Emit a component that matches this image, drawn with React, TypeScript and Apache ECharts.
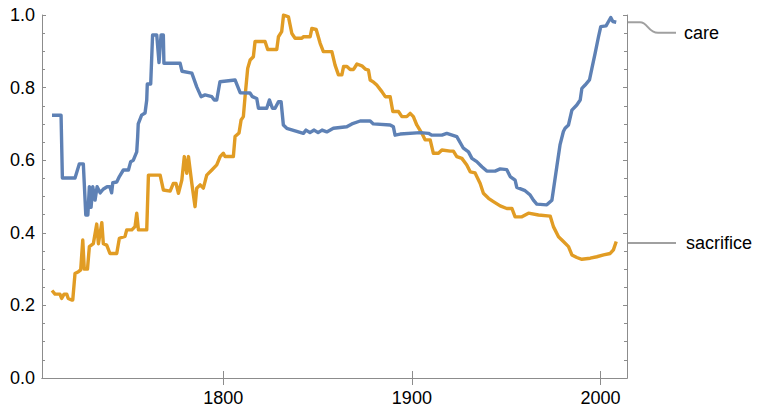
import React, { useEffect, useRef } from "react";
import * as echarts from "echarts";

// [year, value] readings
const careData: [number, number][] = [
  [1709.3, 0.724], [1714.1, 0.724], [1714.8, 0.551], [1721.5, 0.551], [1723.8, 0.59], [1725.9, 0.59],
  [1727.2, 0.449], [1728.3, 0.449], [1729.1, 0.527], [1730.0, 0.47], [1730.9, 0.527], [1732.1, 0.49],
  [1733.2, 0.527], [1734.8, 0.51], [1736.4, 0.52], [1738.5, 0.527], [1740.0, 0.527], [1740.9, 0.51],
  [1741.5, 0.538], [1743.6, 0.54], [1745.0, 0.555], [1747.1, 0.573], [1749.8, 0.573], [1751.0, 0.596],
  [1752.4, 0.6], [1754.2, 0.623], [1754.7, 0.665], [1755.0, 0.7], [1756.8, 0.724], [1758.6, 0.73],
  [1759.5, 0.766], [1759.8, 0.81], [1761.6, 0.81], [1762.6, 0.945], [1764.8, 0.945], [1766.0, 0.869],
  [1767.1, 0.945], [1768.3, 0.945], [1768.6, 0.867], [1777.2, 0.867], [1778.2, 0.845], [1783.4, 0.84],
  [1786.0, 0.802], [1788.3, 0.775], [1790.4, 0.78], [1794.0, 0.775], [1795.3, 0.766], [1796.6, 0.766],
  [1798.3, 0.816], [1806.3, 0.821], [1809.0, 0.786], [1814.2, 0.785], [1815.5, 0.775], [1817.8, 0.77],
  [1818.7, 0.743], [1823.1, 0.743], [1824.5, 0.766], [1826.1, 0.743], [1827.5, 0.743], [1829.3, 0.761],
  [1830.7, 0.761], [1831.9, 0.697], [1833.7, 0.688], [1838.1, 0.681], [1842.5, 0.674], [1843.9, 0.683],
  [1846.0, 0.676], [1848.2, 0.683], [1850.3, 0.676], [1852.4, 0.683], [1854.9, 0.678], [1858.4, 0.688],
  [1865.5, 0.692], [1868.2, 0.7], [1872.6, 0.708], [1877.9, 0.708], [1879.6, 0.7], [1888.5, 0.697],
  [1890.2, 0.692], [1891.1, 0.669], [1893.8, 0.672], [1904.4, 0.676], [1908.8, 0.674], [1910.6, 0.669],
  [1915.9, 0.669], [1918.5, 0.674], [1923.8, 0.665], [1927.3, 0.633], [1930.0, 0.623], [1931.8, 0.605],
  [1934.4, 0.596], [1937.1, 0.582], [1939.7, 0.57], [1944.1, 0.57], [1946.8, 0.576], [1950.3, 0.574],
  [1952.1, 0.555], [1954.7, 0.545], [1955.6, 0.525], [1960.0, 0.516], [1962.7, 0.504], [1964.4, 0.49],
  [1966.2, 0.479], [1971.5, 0.477], [1974.2, 0.49], [1975.0, 0.518], [1976.8, 0.582], [1978.5, 0.642],
  [1980.3, 0.679], [1981.2, 0.688], [1983.0, 0.697], [1984.8, 0.738], [1987.4, 0.752], [1989.2, 0.766],
  [1990.1, 0.798], [1991.8, 0.807], [1994.1, 0.821], [1995.4, 0.853], [1997.1, 0.894], [1998.9, 0.94],
  [2000.1, 0.968], [2002.9, 0.97], [2004.2, 0.982], [2005.4, 0.993], [2006.5, 0.982], [2008.3, 0.98],
];

const sacrificeData: [number, number][] = [
  [1709.3, 0.241], [1710.9, 0.231], [1713.5, 0.231], [1714.4, 0.219], [1715.7, 0.231], [1717.1, 0.231],
  [1717.9, 0.219], [1719.7, 0.215], [1720.3, 0.215], [1721.5, 0.288], [1723.3, 0.293], [1724.5, 0.298],
  [1725.6, 0.38], [1726.4, 0.3], [1728.1, 0.3], [1729.1, 0.362], [1731.2, 0.37], [1733.0, 0.424],
  [1733.9, 0.37], [1735.7, 0.428], [1736.5, 0.37], [1738.3, 0.366], [1740.0, 0.343], [1743.6, 0.343],
  [1745.0, 0.385], [1748.0, 0.39], [1748.9, 0.408], [1751.6, 0.408], [1753.3, 0.417], [1754.2, 0.454],
  [1755.1, 0.408], [1759.5, 0.408], [1760.4, 0.559], [1766.6, 0.559], [1768.3, 0.518], [1771.9, 0.515],
  [1773.6, 0.536], [1775.0, 0.536], [1776.3, 0.509], [1778.1, 0.545], [1779.4, 0.61], [1780.7, 0.564],
  [1781.6, 0.61], [1783.4, 0.536], [1785.1, 0.472], [1786.0, 0.523], [1787.8, 0.532], [1789.5, 0.523],
  [1791.3, 0.559], [1794.0, 0.573], [1796.6, 0.587], [1798.4, 0.61], [1800.1, 0.619], [1801.0, 0.61],
  [1805.4, 0.61], [1806.3, 0.665], [1808.4, 0.675], [1809.5, 0.711], [1810.7, 0.72], [1811.6, 0.775],
  [1813.0, 0.853], [1814.3, 0.876], [1816.0, 0.885], [1816.9, 0.927], [1822.2, 0.927], [1823.6, 0.905],
  [1828.4, 0.905], [1829.3, 0.94], [1831.0, 0.954], [1832.0, 1.0], [1834.6, 0.995], [1836.4, 0.949],
  [1838.1, 0.936], [1841.7, 0.936], [1842.5, 0.94], [1846.1, 0.94], [1847.0, 0.963], [1849.3, 0.96],
  [1851.4, 0.922], [1853.1, 0.899], [1857.6, 0.899], [1859.3, 0.862], [1861.1, 0.835], [1862.9, 0.835],
  [1863.8, 0.858], [1865.6, 0.858], [1867.3, 0.85], [1869.1, 0.85], [1870.9, 0.865], [1873.5, 0.86],
  [1875.3, 0.851], [1877.0, 0.848], [1877.9, 0.821], [1879.7, 0.815], [1881.4, 0.807], [1884.1, 0.789],
  [1885.9, 0.775], [1888.5, 0.775], [1889.9, 0.734], [1892.9, 0.734], [1894.7, 0.72], [1897.3, 0.72],
  [1899.1, 0.729], [1900.8, 0.72], [1902.6, 0.697], [1905.3, 0.674], [1907.0, 0.656], [1909.7, 0.656],
  [1911.4, 0.619], [1914.1, 0.619], [1915.9, 0.628], [1920.3, 0.625], [1922.0, 0.625], [1923.8, 0.61],
  [1926.5, 0.605], [1929.1, 0.587], [1930.9, 0.568], [1933.5, 0.565], [1936.2, 0.536], [1937.9, 0.509],
  [1940.6, 0.495], [1943.2, 0.486], [1946.8, 0.474], [1950.3, 0.467], [1953.0, 0.467], [1954.7, 0.444],
  [1958.3, 0.444], [1961.8, 0.454], [1967.1, 0.449], [1973.3, 0.446], [1975.0, 0.417], [1977.7, 0.389],
  [1980.3, 0.376], [1983.0, 0.362], [1984.8, 0.339], [1987.4, 0.332], [1990.1, 0.327], [1994.5, 0.33],
  [1998.0, 0.334], [2001.6, 0.339], [2005.1, 0.343], [2006.8, 0.353], [2008.3, 0.376],
];

const seriesNames = ["care", "sacrifice"];
const xTickValues = [1800, 1900, 2000];
const xMin = 1704;
const xMax = 2014;

const FONT = "'Liberation Sans', Arial, Helvetica, sans-serif";
const AXIS_COLOR = "#8c8c8c";
const COLORS = ["#5E81B5", "#E19C24"];

export default function App() {
  const ref = useRef<HTMLDivElement>(null);
  useEffect(() => {
    if (!ref.current) return;
    const chart = echarts.init(ref.current, undefined, { renderer: "svg" });
    const axisLine = { show: true, lineStyle: { color: AXIS_COLOR, width: 1 } };
    chart.setOption({
      animation: false,
      backgroundColor: "#ffffff",
      grid: { left: 42, right: 135, top: 15, bottom: 31, containLabel: false },
      xAxis: [
        {
          type: "value", min: xMin, max: xMax, position: "bottom",
          axisLine, splitLine: { show: false },
          axisTick: { show: true, inside: true, length: 7, customValues: xTickValues, lineStyle: { color: AXIS_COLOR } },
          axisLabel: {
            customValues: xTickValues, color: "#000", fontSize: 18, fontFamily: FONT, margin: 11,
            formatter: (v: number) => String(Math.round(v)),
          },
        },
        {
          type: "value", min: xMin, max: xMax, position: "top",
          axisLine, splitLine: { show: false },
          axisTick: { show: true, inside: true, length: 7, customValues: xTickValues, lineStyle: { color: AXIS_COLOR } },
          axisLabel: { show: true, customValues: xTickValues, formatter: () => "" },
        },
      ],
      yAxis: [
        {
          type: "value", min: 0, max: 1, interval: 0.2, position: "left",
          axisLine, splitLine: { show: false },
          axisTick: { show: true, inside: true, length: 4, lineStyle: { color: AXIS_COLOR } },
          minorTick: { show: true, splitNumber: 4, length: 3, lineStyle: { color: AXIS_COLOR } },
          axisLabel: { color: "#000", fontSize: 18, fontFamily: FONT, margin: 7, formatter: (v: number) => v.toFixed(1) },
        },
        {
          type: "value", min: 0, max: 1, interval: 0.2, position: "right",
          axisLine, splitLine: { show: false },
          axisTick: { show: true, inside: true, length: 4, lineStyle: { color: AXIS_COLOR } },
          minorTick: { show: true, splitNumber: 4, length: 3, lineStyle: { color: AXIS_COLOR } },
          axisLabel: { show: false },
        },
      ],
      series: [
        {
          name: seriesNames[0], type: "line", data: careData, showSymbol: false, symbol: "none",
          lineStyle: { color: COLORS[0], width: 3.4, join: "round" }, z: 3,
        },
        {
          name: seriesNames[1], type: "line", data: sacrificeData, showSymbol: false, symbol: "none",
          lineStyle: { color: COLORS[1], width: 3.4, join: "round" }, z: 2,
        },
      ],
    });

    const careEnd = careData[careData.length - 1];
    const sacEnd = sacrificeData[sacrificeData.length - 1];
    const pc = chart.convertToPixel({ xAxisIndex: 0, yAxisIndex: 0 }, careEnd) as number[];
    const ps = chart.convertToPixel({ xAxisIndex: 0, yAxisIndex: 0 }, sacEnd) as number[];
    const edge = chart.convertToPixel({ xAxisIndex: 0, yAxisIndex: 0 }, [xMax, 0]) as number[];
    const x0 = edge[0] + 1;
    const careLabelY = pc[1] + 10.5;
    const sacLabelY = ps[1] + 1.5;
    const leader = { stroke: "#a0a0a0", lineWidth: 2, fill: null };
    chart.setOption({
      graphic: [
        { type: "line", shape: { x1: x0, y1: pc[1], x2: x0 + 12, y2: pc[1] }, style: leader, silent: true },
        {
          type: "bezierCurve",
          shape: { x1: x0 + 12, y1: pc[1], cpx1: x0 + 20, cpy1: pc[1], cpx2: x0 + 20, cpy2: careLabelY, x2: x0 + 30, y2: careLabelY },
          style: leader, silent: true,
        },
        { type: "line", shape: { x1: x0 + 30, y1: careLabelY, x2: x0 + 48, y2: careLabelY }, style: leader, silent: true },
        {
          type: "text", x: x0 + 56, y: careLabelY,
          style: { text: seriesNames[0], fontSize: 18, fontFamily: FONT, fill: "#000", verticalAlign: "middle", align: "left" },
        },
        { type: "line", shape: { x1: x0, y1: sacLabelY, x2: x0 + 48, y2: sacLabelY }, style: leader, silent: true },
        {
          type: "text", x: x0 + 58, y: sacLabelY,
          style: { text: seriesNames[1], fontSize: 18, fontFamily: FONT, fill: "#000", verticalAlign: "middle", align: "left" },
        },
      ],
    });
    return () => chart.dispose();
  }, []);
  return <div ref={ref} style={{ position: "fixed", left: 0, top: 0, width: 762, height: 409 }} />;
}
